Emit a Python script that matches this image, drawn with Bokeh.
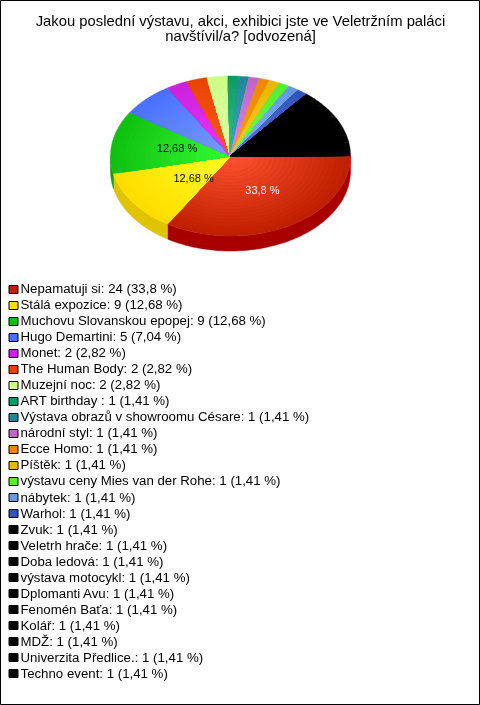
import numpy as np
from bokeh.plotting import figure
from bokeh.core.properties import value
from bokeh.embed import file_html
from bokeh.resources import INLINE

title_lines = ["Jakou poslední výstavu, akci, exhibici jste ve Veletržním paláci",
               "navštívil/a? [odvozená]"]
labels = ["Nepamatuji si", "Stálá expozice", "Muchovu Slovanskou epopej", "Hugo Demartini",
          "Monet", "The Human Body", "Muzejní noc", "ART birthday ",
          "Výstava obrazů v showroomu Césare", "národní styl", "Ecce Homo", "Píštěk",
          "výstavu ceny Mies van der Rohe", "nábytek", "Warhol", "Zvuk", "Veletrh hrače",
          "Doba ledová", "výstava motocykl", "Dplomanti Avu", "Fenomén Baťa", "Kolář", "MDŽ",
          "Univerzita Předlice.", "Techno event"]
counts = [24, 9, 9, 5, 2, 2, 2, 1, 1, 1, 1, 1, 1, 1, 1, 1, 1, 1, 1, 1, 1, 1, 1, 1, 1]
percents = ["33,8", "12,68", "12,68", "7,04", "2,82", "2,82", "2,82", "1,41", "1,41", "1,41",
            "1,41", "1,41", "1,41", "1,41", "1,41", "1,41", "1,41", "1,41", "1,41", "1,41",
            "1,41", "1,41", "1,41", "1,41", "1,41"]
rim_colors = ["#c02000", "#ffdd00", "#10c010", "#4a70ff", "#cc22dd", "#e84400", "#ccff88",
              "#109966", "#228899", "#c066c8", "#ee8800", "#e8b800", "#55ee33", "#6699e0",
              "#3355bb"] + ["#000000"] * 10
centre_colors = ["#ff5533", "#ffff22", "#33ff33", "#7a9fff", "#ee33ff", "#ff5a1a", "#ddffaa",
                 "#33cc88", "#44aabb", "#dd88ee", "#ffa020", "#ffd020", "#77ff44", "#88bbff",
                 "#5577dd"] + ["#000000"] * 10
side_colors = ["#a80000", "#e0c400", "#10a010"]
pie_labels = ["33,8 %", "12,68 %", "12,68 %"]
pie_label_colors = ["#ffffff", "#000000", "#000000"]
pie_label_fx = [0.546, 0.378, 0.453]
pie_label_fy = [0.48, 0.475, 0.54]

CX, CY, RX, RY, DEPTH = 230.0, 155.5, 120.0, 80.0, 15.0
RINGS = 24

def hex2rgb(c):
    return np.array([int(c[i:i + 2], 16) for i in (1, 3, 5)], dtype=float)

def rgb2hex(v):
    return "#%02x%02x%02x" % tuple(int(round(x)) for x in v)

p = figure(width=480, height=705, x_range=(0, 480), y_range=(705, 0), min_border=0,
           toolbar_location=None, output_backend="svg",
           styles={"position": "fixed", "left": "0px", "top": "0px"})
p.axis.visible = False
p.grid.visible = False
p.outline_line_color = "#000000"
p.outline_line_width = 1
p.background_fill_color = "#ffffff"
p.border_fill_color = "#ffffff"

angles = np.cumsum([0] + counts) / sum(counts) * 2 * np.pi

# side wall
for i in range(3):
    a0, a1 = angles[i], min(angles[i + 1], np.pi)
    t = np.linspace(a0, a1, 80)
    xs = CX + RX * np.cos(t)
    ys = CY + RY * np.sin(t)
    p.patch(np.r_[xs, xs[::-1]], np.r_[ys, ys[::-1] + DEPTH],
            fill_color=side_colors[i], line_color=side_colors[i], line_width=0.5)

# top face, radial shading from concentric wedges
xs_all, ys_all, cols = [], [], []
for i in range(len(counts)):
    t = np.linspace(angles[i], angles[i + 1], max(6, int(counts[i] * 12)))
    rim, cen = hex2rgb(rim_colors[i]), hex2rgb(centre_colors[i])
    for k in range(RINGS, 0, -1):
        f = k / RINGS
        xs_all.append(np.r_[CX, CX + f * RX * np.cos(t)])
        ys_all.append(np.r_[CY, CY + f * RY * np.sin(t)])
        cols.append(rgb2hex(cen + (rim - cen) * f))
p.patches(xs_all, ys_all, fill_color=cols, line_color=cols, line_width=0.5)

# pie labels
for i, txt in enumerate(pie_labels):
    mid = (angles[i] + angles[i + 1]) / 2
    p.text([CX + pie_label_fx[i] * RX * np.cos(mid)], [CY + pie_label_fy[i] * RY * np.sin(mid)],
           text=[txt], text_color=pie_label_colors[i], text_font=value("Liberation Sans"),
           text_font_size="11px", text_align="center", text_baseline="middle")

# title
p.text([240, 240], [20, 35], text=title_lines, text_color="#000000",
       text_font=value("Liberation Sans"), text_font_size="14.8px",
       text_align="center", text_baseline="middle")

# legend
idx = np.arange(len(labels))
rows = 288 + 16.04 * idx
swatch_mid = np.round(289 + 16.02 * idx)
leg_text = [f"{l}: {c} ({q} %)" for l, c, q in zip(labels, counts, percents)]
p.quad(left=np.full(len(idx), 8.5), right=np.full(len(idx), 17.5),
       top=swatch_mid - 4, bottom=swatch_mid + 4, fill_color=rim_colors,
       line_color="#000000", line_width=1, line_join="miter")
p.text(np.full(len(rows), 20.0), rows, text=leg_text, text_color="#000000",
       text_font=value("Liberation Sans"), text_font_size="13.25px",
       text_align="left", text_baseline="middle")

open("out.html", "w").write(file_html(p, INLINE))
